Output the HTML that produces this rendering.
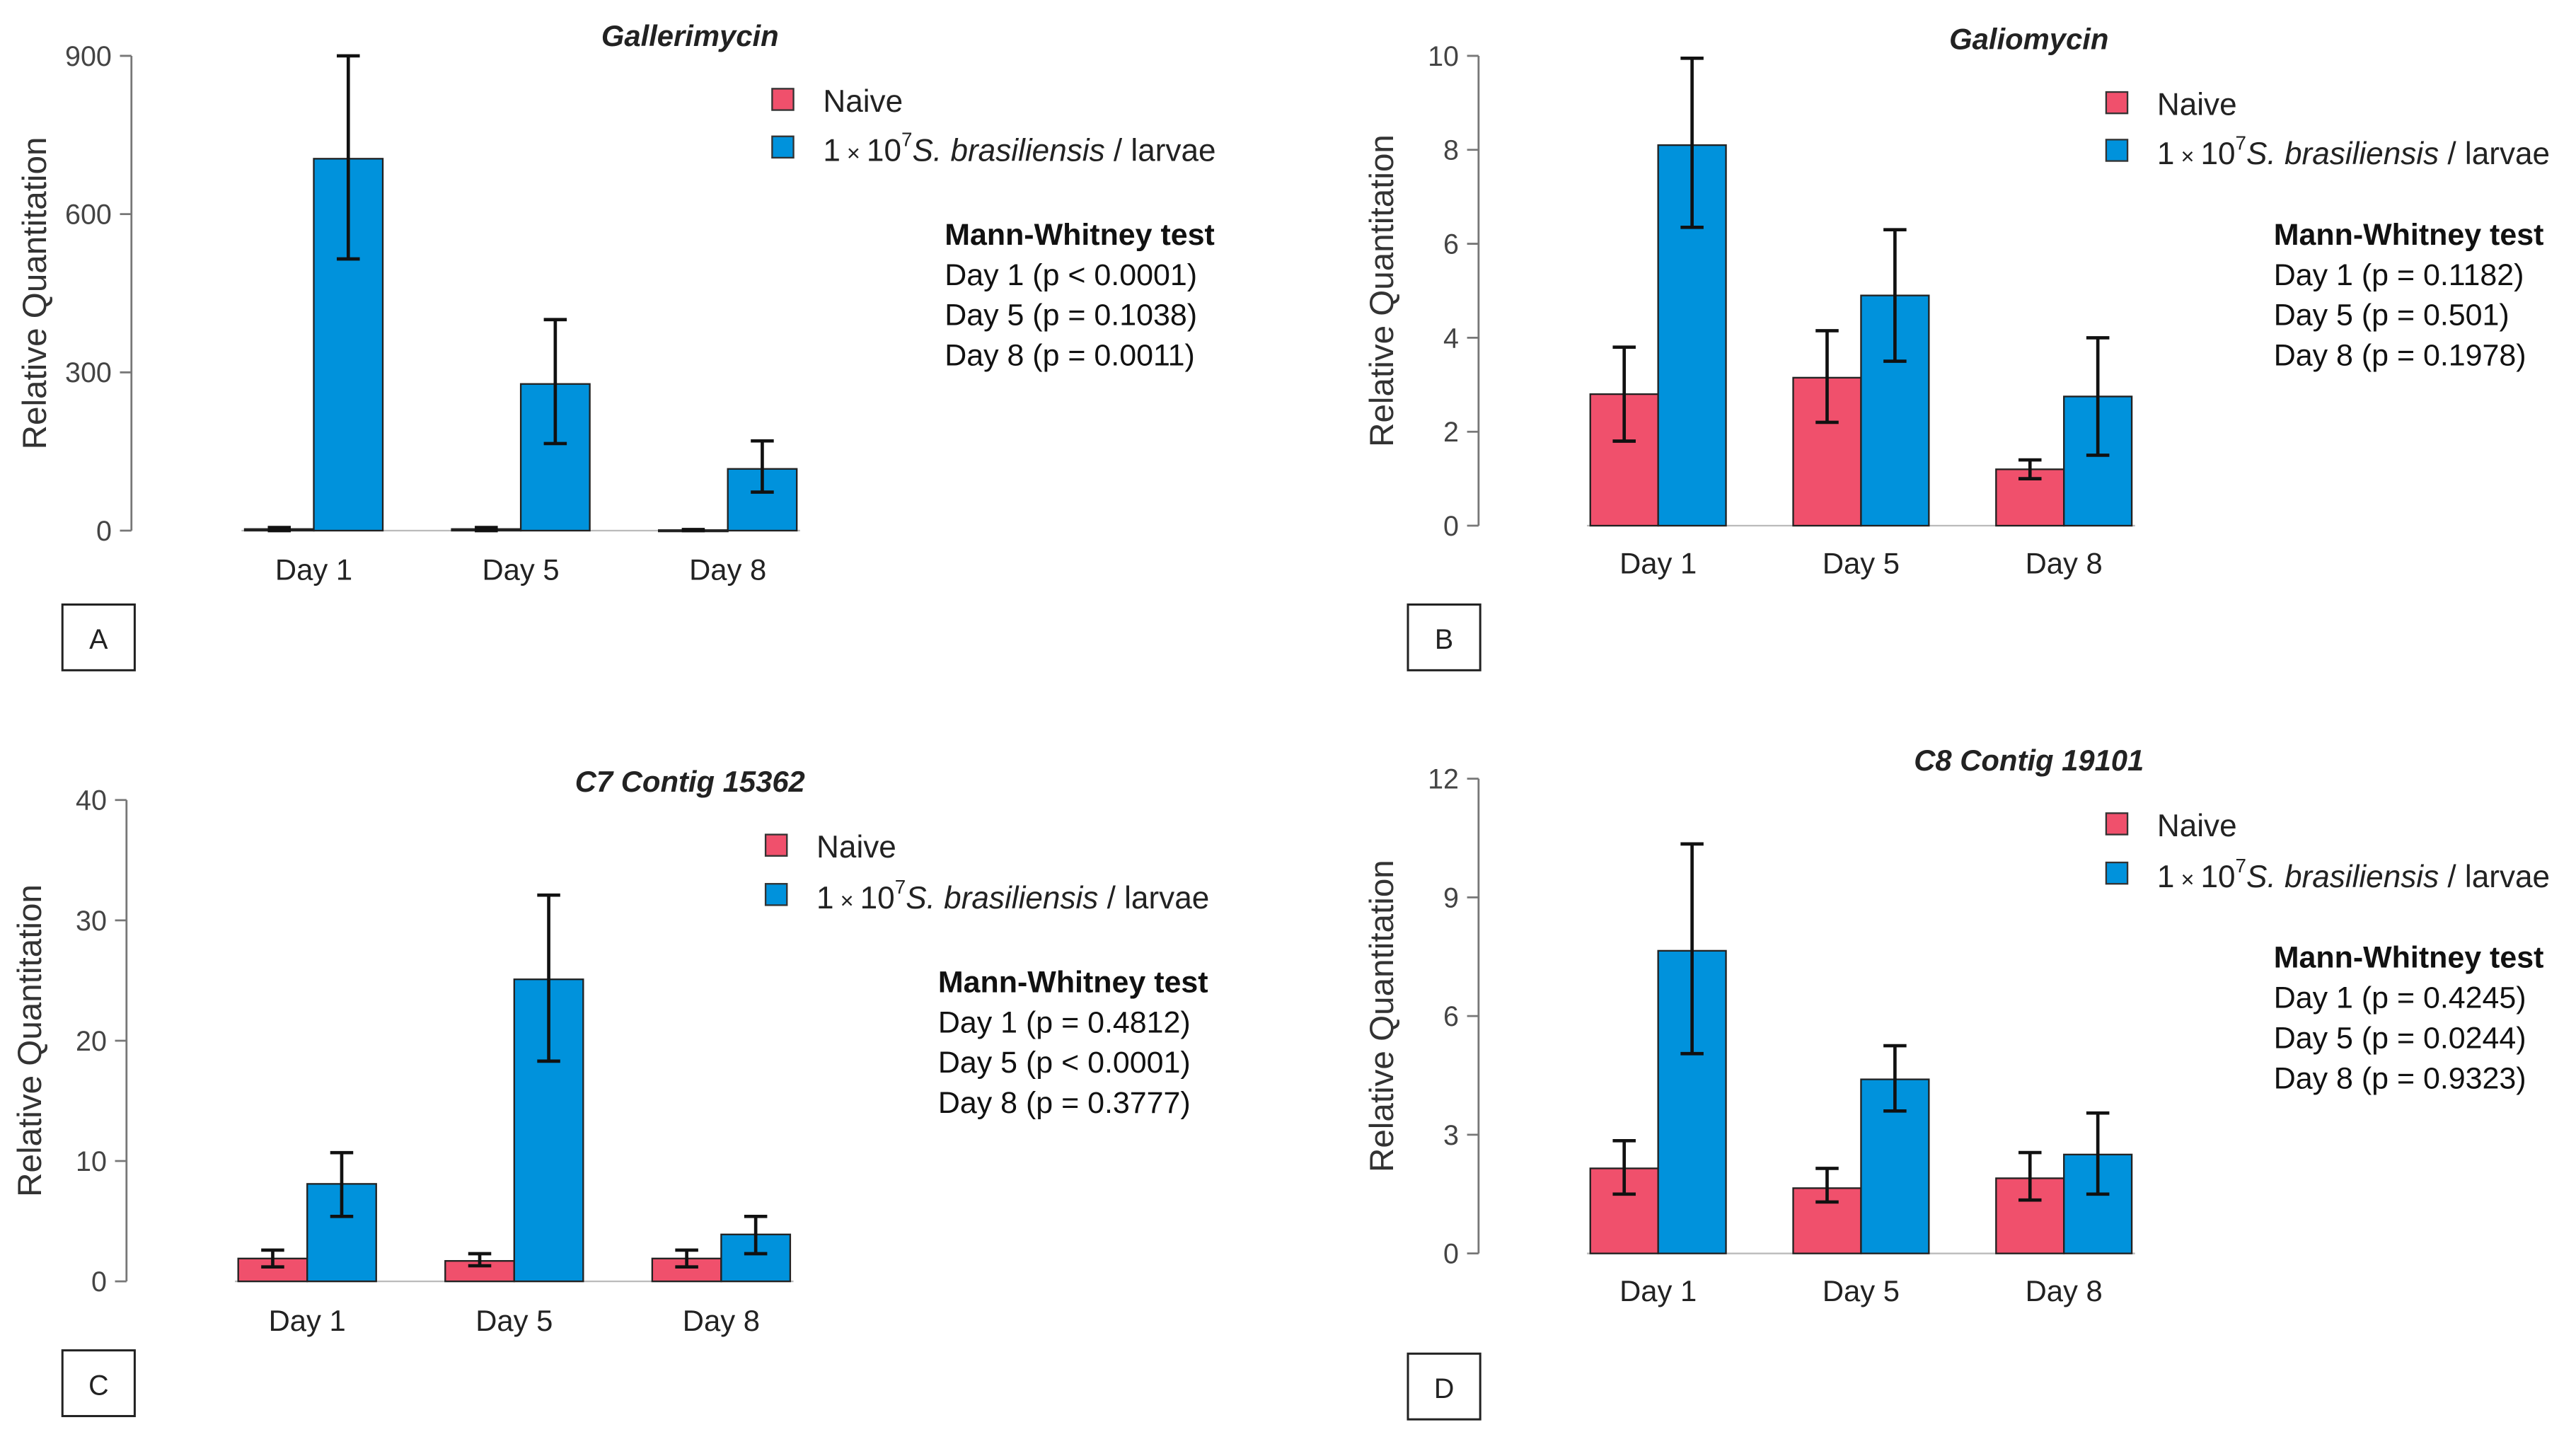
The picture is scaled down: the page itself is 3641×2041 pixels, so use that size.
<!DOCTYPE html>
<html><head><meta charset="utf-8"><style>
html,body{margin:0;padding:0;background:#fff;}
svg{display:block;}
text{font-family:"Liberation Sans",Arial,sans-serif;}
</style></head>
<body>
<svg id="fig" width="3641" height="2041" viewBox="0 0 1568 879" preserveAspectRatio="none" xmlns="http://www.w3.org/2000/svg"></svg>
<script>
const categories = ["Day 1", "Day 5", "Day 8"];
const seriesNames = ["Naive", "1×10⁷ S. brasiliensis / larvae"];
// Panel A - Gallerimycin
const aNaive = [3, 3, 1];
const aNaiveLo = [0, 0, 0];
const aNaiveHi = [6, 6, 2];
const aInf = [705, 278, 117];
const aInfLo = [515, 165, 73];
const aInfHi = [900, 400, 170];
const aTicks = [0, 300, 600, 900];
const aP = ["Day 1 (p < 0.0001)", "Day 5 (p = 0.1038)", "Day 8 (p = 0.0011)"];
// Panel B - Galiomycin
const bNaive = [2.8, 3.15, 1.2];
const bNaiveLo = [1.8, 2.2, 1.0];
const bNaiveHi = [3.8, 4.15, 1.4];
const bInf = [8.1, 4.9, 2.75];
const bInfLo = [6.35, 3.5, 1.5];
const bInfHi = [9.95, 6.3, 4.0];
const bTicks = [0, 2, 4, 6, 8, 10];
const bP = ["Day 1 (p = 0.1182)", "Day 5 (p = 0.501)", "Day 8 (p = 0.1978)"];
// Panel C - C7 Contig 15362
const cNaive = [1.9, 1.7, 1.9];
const cNaiveLo = [1.2, 1.3, 1.2];
const cNaiveHi = [2.6, 2.3, 2.6];
const cInf = [8.1, 25.1, 3.9];
const cInfLo = [5.4, 18.3, 2.3];
const cInfHi = [10.7, 32.1, 5.4];
const cTicks = [0, 10, 20, 30, 40];
const cP = ["Day 1 (p = 0.4812)", "Day 5 (p < 0.0001)", "Day 8 (p = 0.3777)"];
// Panel D - C8 Contig 19101
const dNaive = [2.15, 1.65, 1.9];
const dNaiveLo = [1.5, 1.3, 1.35];
const dNaiveHi = [2.85, 2.15, 2.55];
const dInf = [7.65, 4.4, 2.5];
const dInfLo = [5.05, 3.6, 1.5];
const dInfHi = [10.35, 5.25, 3.55];
const dTicks = [0, 3, 6, 9, 12];
const dP = ["Day 1 (p = 0.4245)", "Day 5 (p = 0.0244)", "Day 8 (p = 0.9323)"];

const NS = "http://www.w3.org/2000/svg";
const svg = document.getElementById("fig");
function mk(tag, attrs, parent, txt) {
  const e = document.createElementNS(NS, tag);
  for (const k in attrs) e.setAttribute(k, attrs[k]);
  if (txt !== undefined) e.textContent = txt;
  parent.appendChild(e);
  return e;
}

const panels = [
  {id:"a", letter:"A", title:"Gallerimycin", ax:80, y0:323, y1:34, x0:149, bw:42, step:126, max:900,
   naive:aNaive, nlo:aNaiveLo, nhi:aNaiveHi, inf:aInf, ilo:aInfLo, ihi:aInfHi, ticks:aTicks, p:aP,
   titleX:420, titleY:28, legX:470, legY1:61, legY2:90, mwX:575, mwY:149, dayY:353, boxX:38, boxY:368},
  {id:"b", letter:"B", title:"Galiomycin", ax:900, y0:320, y1:34, x0:968, bw:41.3, step:123.5, max:10,
   naive:bNaive, nlo:bNaiveLo, nhi:bNaiveHi, inf:bInf, ilo:bInfLo, ihi:bInfHi, ticks:bTicks, p:bP,
   titleX:1235, titleY:30, legX:1282, legY1:63, legY2:92, mwX:1384, mwY:149, dayY:349, boxX:857, boxY:368},
  {id:"c", letter:"C", title:"C7 Contig 15362", ax:77, y0:780, y1:487, x0:145, bw:42, step:126, max:40,
   naive:cNaive, nlo:cNaiveLo, nhi:cNaiveHi, inf:cInf, ilo:cInfLo, ihi:cInfHi, ticks:cTicks, p:cP,
   titleX:420, titleY:482, legX:466, legY1:515, legY2:545, mwX:571, mwY:604, dayY:810, boxX:38, boxY:822},
  {id:"d", letter:"D", title:"C8 Contig 19101", ax:900, y0:763, y1:474, x0:968, bw:41.3, step:123.5, max:12,
   naive:dNaive, nlo:dNaiveLo, nhi:dNaiveHi, inf:dInf, ilo:dInfLo, ihi:dInfHi, ticks:dTicks, p:dP,
   titleX:1235, titleY:469, legX:1282, legY1:502, legY2:532, mwX:1384, mwY:589, dayY:792, boxX:857, boxY:824}
];

const RED = "#f0506c", BLUE = "#0092dc";

panels.forEach(P => {
  const g = mk("g", {}, svg);
  
  
  const yS = v => P.y0 - (v / P.max) * (P.y0 - P.y1);
  const xS = (i, s) => P.x0 + i * P.step + s * P.bw;

  const axis = mk("line", {x1:P.ax, y1:yS(P.ticks[0]), x2:P.ax, y2:yS(P.ticks[P.ticks.length-1]), stroke:"#777", "stroke-width":1.2}, g);
  
  
  P.ticks.forEach(t => {
    const tk = mk("line", {x1:P.ax-7, y1:yS(t), x2:P.ax, y2:yS(t), stroke:"#777", "stroke-width":1.2}, g);
    
    
    const tl = mk("text", {x:P.ax-12, y:yS(t)+6, "text-anchor":"end", "font-size":17, fill:"#444"}, g, String(t));
    
    
  });
  const ym = (P.y0 + P.y1) / 2;
  const yt = mk("text", {x:P.ax-52, y:ym, transform:`rotate(-90 ${P.ax-52} ${ym})`, "text-anchor":"middle", "font-size":20.5, fill:"#333"}, g, "Relative Quantitation");
  
  

  const bl = mk("line", {x1:P.x0-2, y1:P.y0, x2:xS(2,2)+2, y2:P.y0, stroke:"#bbb", "stroke-width":1}, g);
  
  

  const series = [[P.naive, P.nlo, P.nhi, RED, "naive"], [P.inf, P.ilo, P.ihi, BLUE, "infected"]];
  categories.forEach((c, i) => {
    series.forEach((S, s) => {
      const v = S[0][i];
      const x = xS(i, s);
      const r = mk("rect", {x:x, y:yS(v), width:P.bw, height:Math.max(P.y0 - yS(v), 0.8), fill:S[3], stroke:"#222", "stroke-width":1}, g);
      
      
      const cx = x + P.bw / 2;
      const eg = mk("g", {stroke:"#111", "stroke-width":2}, g);
      
      
      mk("line", {x1:cx, y1:yS(S[1][i]), x2:cx, y2:yS(S[2][i])}, eg);
      mk("line", {x1:cx-7, y1:yS(S[1][i]), x2:cx+7, y2:yS(S[1][i])}, eg);
      mk("line", {x1:cx-7, y1:yS(S[2][i]), x2:cx+7, y2:yS(S[2][i])}, eg);
    });
    const dl = mk("text", {x:xS(i,1), y:P.dayY, "text-anchor":"middle", "font-size":18, fill:"#222"}, g, c);
    
    
  });

  const tt = mk("text", {x:P.titleX, y:P.titleY, "text-anchor":"middle", "font-size":18, "font-weight":"bold", "font-style":"italic", fill:"#222"}, g, P.title);
  
  

  const lg = mk("g", {}, g);
  
  
  const l1 = mk("rect", {x:P.legX, y:P.legY1-7, width:13, height:13, fill:RED, stroke:"#333", "stroke-width":1}, lg);
  
  
  const lt1 = mk("text", {x:P.legX+31, y:P.legY1+7, "font-size":19, fill:"#222"}, lg, seriesNames[0]);
  
  
  const l2 = mk("rect", {x:P.legX, y:P.legY2-7, width:13, height:13, fill:BLUE, stroke:"#333", "stroke-width":1}, lg);
  
  
  const lt2 = mk("text", {x:P.legX+31, y:P.legY2+8, "font-size":19, fill:"#222"}, lg);
  
  
  mk("tspan", {}, lt2, "1");
  mk("tspan", {"font-size":14}, lt2, " × ");
  mk("tspan", {}, lt2, "10");
  mk("tspan", {dy:-9, "font-size":12}, lt2, "7");
  mk("tspan", {dy:9, "font-style":"italic"}, lt2, "S. brasiliensis");
  mk("tspan", {}, lt2, " / larvae");

  const mw = mk("g", {}, g);
  
  
  mk("text", {x:P.mwX, y:P.mwY, "font-size":18.5, "font-weight":"bold", fill:"#111"}, mw, "Mann-Whitney test");
  P.p.forEach((s, k) => mk("text", {x:P.mwX, y:P.mwY + 24.5*(k+1), "font-size":18.5, fill:"#111"}, mw, s));

  const bx = mk("g", {}, g);
  
  
  mk("rect", {x:P.boxX, y:P.boxY, width:44, height:40, fill:"#fff", stroke:"#222", "stroke-width":1.3}, bx);
  mk("text", {x:P.boxX+22, y:P.boxY+27, "text-anchor":"middle", "font-size":17, fill:"#222"}, bx, P.letter);
});
</script>
</body></html>
